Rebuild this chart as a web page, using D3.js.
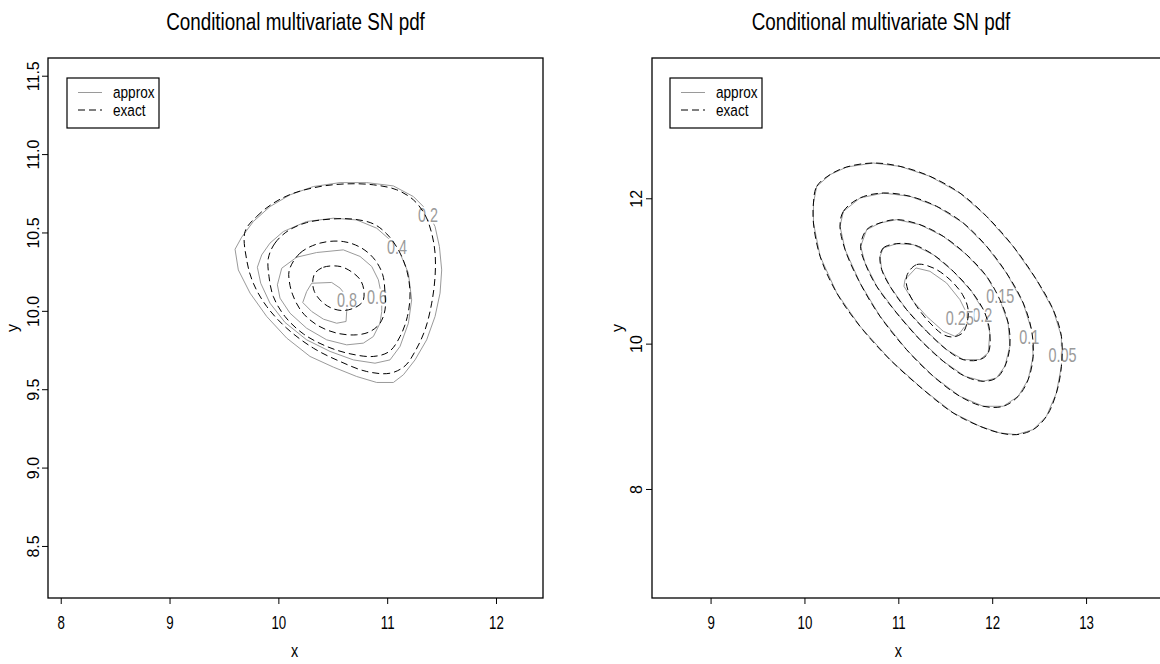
<!DOCTYPE html>
<html>
<head>
<meta charset="utf-8">
<script src="https://cdn.jsdelivr.net/npm/d3@7"></script>
<style>
  body { margin: 0; background: #fff; }
  text { font-family: "Liberation Sans", Arial, sans-serif; }
</style>
</head>
<body>
<svg id="chart" width="1160" height="664"></svg>
<script>
// ---- left panel values ----
var leftXTicks = [8, 9, 10, 11, 12];
var leftYTicks = [8.5, 9.0, 9.5, 10.0, 10.5, 11.0, 11.5];
var leftLevels = [0.2, 0.4, 0.6, 0.8];
var leftApprox = [
  [[9.602,10.393],[9.663,10.470],[9.770,10.570],[9.923,10.665],[10.107,10.740],[10.322,10.793],[10.567,10.818],[10.812,10.818],[11.057,10.797],[11.241,10.729],[11.363,10.644],[11.440,10.538],[11.480,10.410],[11.501,10.261],[11.486,10.113],[11.440,9.964],[11.363,9.815],[11.256,9.687],[11.149,9.592],[11.057,9.543],[10.904,9.543],[10.720,9.581],[10.505,9.641],[10.291,9.709],[10.077,9.826],[9.893,9.964],[9.740,10.113],[9.632,10.261]],
  [[9.807,10.278],[9.847,10.357],[9.923,10.432],[10.046,10.506],[10.260,10.570],[10.505,10.591],[10.720,10.580],[10.904,10.527],[11.026,10.453],[11.118,10.368],[11.195,10.240],[11.225,10.070],[11.195,9.921],[11.118,9.773],[11.026,9.687],[10.888,9.666],[10.689,9.687],[10.475,9.741],[10.260,9.815],[10.061,9.926],[9.923,10.049],[9.838,10.176]],
  [[9.991,10.166],[10.031,10.272],[10.168,10.342],[10.352,10.372],[10.597,10.389],[10.751,10.347],[10.858,10.283],[10.919,10.198],[10.950,10.091],[10.950,9.996],[10.934,9.921],[10.873,9.836],[10.781,9.794],[10.628,9.783],[10.444,9.815],[10.260,9.889],[10.107,9.985],[10.015,10.081]],
  [[10.306,10.176],[10.490,10.181],[10.567,10.145],[10.628,10.091],[10.628,9.996],[10.622,9.932],[10.536,9.921],[10.414,9.947],[10.306,9.996],[10.224,10.053],[10.260,10.123]]
];
var leftExact = [
  [[9.694,10.506],[9.801,10.602],[9.954,10.687],[10.138,10.750],[10.383,10.793],[10.628,10.810],[10.873,10.804],[11.088,10.772],[11.241,10.708],[11.348,10.612],[11.409,10.495],[11.440,10.368],[11.440,10.219],[11.409,10.049],[11.348,9.879],[11.256,9.741],[11.164,9.649],[11.026,9.602],[10.812,9.613],[10.567,9.677],[10.322,9.762],[10.077,9.889],[9.893,10.028],[9.770,10.176],[9.709,10.325]],
  [[9.908,10.336],[9.969,10.432],[10.092,10.512],[10.260,10.563],[10.475,10.585],[10.689,10.585],[10.873,10.555],[10.996,10.491],[11.103,10.389],[11.179,10.261],[11.210,10.113],[11.186,9.964],[11.118,9.836],[11.020,9.741],[10.873,9.709],[10.659,9.726],[10.444,9.773],[10.230,9.853],[10.061,9.964],[9.954,10.091],[9.914,10.219]],
  [[10.101,10.261],[10.199,10.368],[10.383,10.432],[10.597,10.442],[10.766,10.400],[10.888,10.325],[10.959,10.230],[10.980,10.113],[10.980,10.006],[10.934,9.921],[10.843,9.868],[10.720,9.847],[10.536,9.858],[10.352,9.911],[10.214,9.996],[10.132,10.102],[10.101,10.187]],
  [[10.337,10.240],[10.414,10.278],[10.567,10.283],[10.683,10.244],[10.757,10.193],[10.787,10.123],[10.775,10.059],[10.705,10.021],[10.597,10.002],[10.490,10.017],[10.398,10.059],[10.331,10.123],[10.316,10.187]]
];
var leftLabelPos = [[11.376,10.612],[11.091,10.408],[10.907,10.089],[10.631,10.070]];

// ---- right panel values ----
var rightXTicks = [9, 10, 11, 12, 13];
var rightYTicks = [8, 10, 12];
var rightLevels = [0.05, 0.1, 0.15, 0.2, 0.25];
var rightApprox = [
  [[10.096,11.935],[10.131,12.164],[10.273,12.325],[10.450,12.430],[10.734,12.485],[11.018,12.439],[11.337,12.302],[11.656,12.072],[11.940,11.751],[12.223,11.339],[12.471,10.880],[12.649,10.468],[12.737,10.101],[12.737,9.688],[12.684,9.321],[12.578,9.000],[12.436,8.817],[12.259,8.748],[12.081,8.771],[11.869,8.863],[11.585,9.046],[11.266,9.367],[10.911,9.780],[10.592,10.238],[10.344,10.697],[10.167,11.201],[10.096,11.660]],
  [[10.379,11.614],[10.415,11.820],[10.592,12.004],[10.840,12.072],[11.124,12.027],[11.408,11.889],[11.691,11.660],[11.940,11.339],[12.152,10.972],[12.330,10.559],[12.418,10.193],[12.436,9.826],[12.383,9.505],[12.277,9.275],[12.117,9.138],[11.904,9.138],[11.656,9.275],[11.372,9.551],[11.088,9.917],[10.805,10.376],[10.592,10.834],[10.433,11.293]],
  [[10.599,11.339],[10.663,11.568],[10.805,11.660],[10.982,11.706],[11.230,11.637],[11.479,11.476],[11.727,11.224],[11.940,10.926],[12.081,10.605],[12.170,10.284],[12.188,9.963],[12.135,9.688],[12.046,9.528],[11.904,9.482],[11.709,9.551],[11.479,9.757],[11.230,10.055],[10.982,10.422],[10.769,10.789],[10.645,11.110]],
  [[10.805,11.201],[10.840,11.316],[10.982,11.375],[11.159,11.362],[11.372,11.224],[11.585,10.995],[11.780,10.720],[11.922,10.422],[11.975,10.147],[11.957,9.872],[11.869,9.780],[11.691,9.780],[11.514,9.917],[11.301,10.170],[11.088,10.468],[10.911,10.789],[10.823,11.018]],
  [[11.060,10.789],[11.071,10.880],[11.188,11.041],[11.337,10.995],[11.514,10.834],[11.656,10.605],[11.727,10.422],[11.709,10.239],[11.656,10.147],[11.603,10.101],[11.479,10.170],[11.301,10.376],[11.159,10.582]]
];
var rightExactInner = [[11.088,10.926],[11.195,11.087],[11.372,11.041],[11.550,10.880],[11.684,10.674],[11.744,10.468],[11.727,10.262],[11.684,10.147],[11.585,10.092],[11.479,10.124],[11.337,10.285],[11.195,10.514],[11.106,10.720]];
var rightExact = rightApprox.slice(0, 4).concat([rightExactInner]);
var rightLabelPos = [[12.749,9.849],[12.394,10.10],[12.085,10.665],[11.895,10.400],[11.655,10.353]];

var legendLabels = ["approx", "exact"];
var titleText = "Conditional multivariate SN pdf";

var svg = d3.select('#chart');
var approxColor = '#9a9a9a';

// the reference uses a condensed Helvetica; squeeze regular text horizontally
function narrowAt(x, y, k) {
    return 'translate(' + x + ',' + y + ') scale(' + (k || 0.8) + ',1)';
}

function drawPanel(p) {
    var x = d3.scaleLinear().domain(p.xDomain).range([p.left, p.right]);
    var y = d3.scaleLinear().domain(p.yDomain).range([p.bottom, p.top]);
    var g = svg.append('g');

    var clipId = 'clip' + p.id;
    g.append('clipPath').attr('id', clipId)
        .append('rect')
        .attr('x', p.left).attr('y', p.top)
        .attr('width', p.right - p.left).attr('height', p.bottom - p.top);

    var plot = g.append('g').attr('clip-path', 'url(#' + clipId + ')');

    // approx contours: grey polygons
    var polyLine = d3.line().x(function(d) { return x(d[0]); }).y(function(d) { return y(d[1]); })
        .curve(d3.curveLinearClosed);
    plot.selectAll('.approx')
        .data(p.approx)
        .enter()
        .append('path')
        .attr('class', 'approx')
        .attr('d', polyLine)
        .attr('fill', 'none')
        .attr('stroke', approxColor)
        .attr('stroke-width', 1);

    // contour labels break the grey lines
    var labels = plot.selectAll('.clab')
        .data(p.levels)
        .enter()
        .append('g')
        .attr('class', 'clab')
        .attr('transform', function(d, i) {
            return narrowAt(x(p.labelPos[i][0]), y(p.labelPos[i][1]), 0.72);
        });
    labels.append('text')
        .attr('text-anchor', 'middle')
        .attr('dy', '0.36em')
        .attr('font-size', 20)
        .attr('fill', approxColor)
        .text(function(d) { return String(d); });
    labels.each(function() {
        var t = d3.select(this).select('text');
        var bb = t.node().getBBox();
        d3.select(this).insert('rect', 'text')
            .attr('x', bb.x).attr('y', bb.y + 3)
            .attr('width', bb.width).attr('height', bb.height - 6)
            .attr('fill', '#fff');
    });

    // exact contours: black dashed, smoother
    var smoothLine = d3.line().x(function(d) { return x(d[0]); }).y(function(d) { return y(d[1]); })
        .curve(d3.curveCatmullRomClosed.alpha(0.5));
    plot.selectAll('.exact')
        .data(p.exact)
        .enter()
        .append('path')
        .attr('class', 'exact')
        .attr('d', smoothLine)
        .attr('fill', 'none')
        .attr('stroke', '#000')
        .attr('stroke-width', 1)
        .attr('stroke-dasharray', '7,4');

    // frame
    g.append('rect')
        .attr('x', p.left).attr('y', p.top)
        .attr('width', p.right - p.left).attr('height', p.bottom - p.top)
        .attr('fill', 'none')
        .attr('stroke', '#000')
        .attr('stroke-width', 1.3);

    // x axis
    var xAxis = g.append('g')
        .attr('transform', 'translate(0,' + p.bottom + ')')
        .call(d3.axisBottom(x).tickValues(p.xTicks).tickSize(6).tickSizeOuter(0).tickFormat(d3.format('d')));
    xAxis.select('.domain').remove();
    xAxis.selectAll('.tick line').attr('stroke', '#000');
    xAxis.selectAll('.tick text')
        .attr('font-size', 19)
        .attr('fill', '#000')
        .attr('y', 0)
        .attr('dy', null)
        .attr('transform', narrowAt(0, 31, 0.7));

    // y axis, labels parallel to axis
    var yAxis = g.append('g')
        .attr('transform', 'translate(' + p.left + ',0)')
        .call(d3.axisLeft(y).tickValues(p.yTicks).tickSize(6).tickSizeOuter(0).tickFormat(d3.format(p.yFormat)));
    yAxis.select('.domain').remove();
    yAxis.selectAll('.tick line').attr('stroke', '#000');
    yAxis.selectAll('.tick text')
        .attr('font-size', 16)
        .attr('fill', '#000')
        .attr('text-anchor', 'middle')
        .attr('x', 0)
        .attr('y', -p.yLabelOff)
        .attr('dy', null)
        .attr('transform', 'rotate(-90)');

    // titles
    g.append('text')
        .attr('transform', narrowAt(p.titleX, 30, 0.82))
        .attr('text-anchor', 'middle')
        .attr('font-size', 23)
        .text(titleText);
    g.append('text')
        .attr('transform', narrowAt(x(p.xTitleAt), 657, 0.8))
        .attr('text-anchor', 'middle')
        .attr('font-size', 18)
        .text('x');
    g.append('text')
        .attr('transform', 'translate(' + p.yTitleX + ',' + ((p.top + p.bottom) / 2) + ') rotate(-90)')
        .attr('text-anchor', 'middle')
        .attr('font-size', 16)
        .text('y');

    // legend
    var lg = g.append('g').attr('transform', 'translate(' + p.legendX + ',78)');
    lg.append('rect')
        .attr('width', 92).attr('height', 50)
        .attr('fill', '#fff')
        .attr('stroke', '#000')
        .attr('stroke-width', 1.2);
    var items = lg.selectAll('.item')
        .data(legendLabels)
        .enter()
        .append('g')
        .attr('transform', function(d, i) { return 'translate(0,' + (14.5 + i * 17.5) + ')'; });
    items.append('line')
        .attr('x1', 11).attr('x2', 35)
        .attr('stroke', function(d, i) { return i === 0 ? approxColor : '#000'; })
        .attr('stroke-dasharray', function(d, i) { return i === 0 ? null : '7,4'; });
    items.append('text')
        .attr('transform', narrowAt(46, 0, 0.8))
        .attr('dy', '0.34em')
        .attr('font-size', 17)
        .text(function(d) { return d; });
}

drawPanel({
    id: 'L', left: 48, right: 543, top: 58, bottom: 598,
    xDomain: [7.883, 12.432], yDomain: [8.168, 11.613],
    xTicks: leftXTicks, yTicks: leftYTicks, yFormat: '.1f', yLabelOff: 9.5,
    levels: leftLevels, approx: leftApprox, exact: leftExact, labelPos: leftLabelPos,
    titleX: 295.5, xTitleAt: 10.15, yTitleX: 18, legendX: 67
});
drawPanel({
    id: 'R', left: 652, right: 1170, top: 58, bottom: 598,
    xDomain: [8.376, 13.894], yDomain: [6.50, 13.93],
    xTicks: rightXTicks, yTicks: rightYTicks, yFormat: 'd', yLabelOff: 10,
    levels: rightLevels, approx: rightApprox, exact: rightExact, labelPos: rightLabelPos,
    titleX: 881, xTitleAt: 11, yTitleX: 623, legendX: 670
});
</script>
</body>
</html>
